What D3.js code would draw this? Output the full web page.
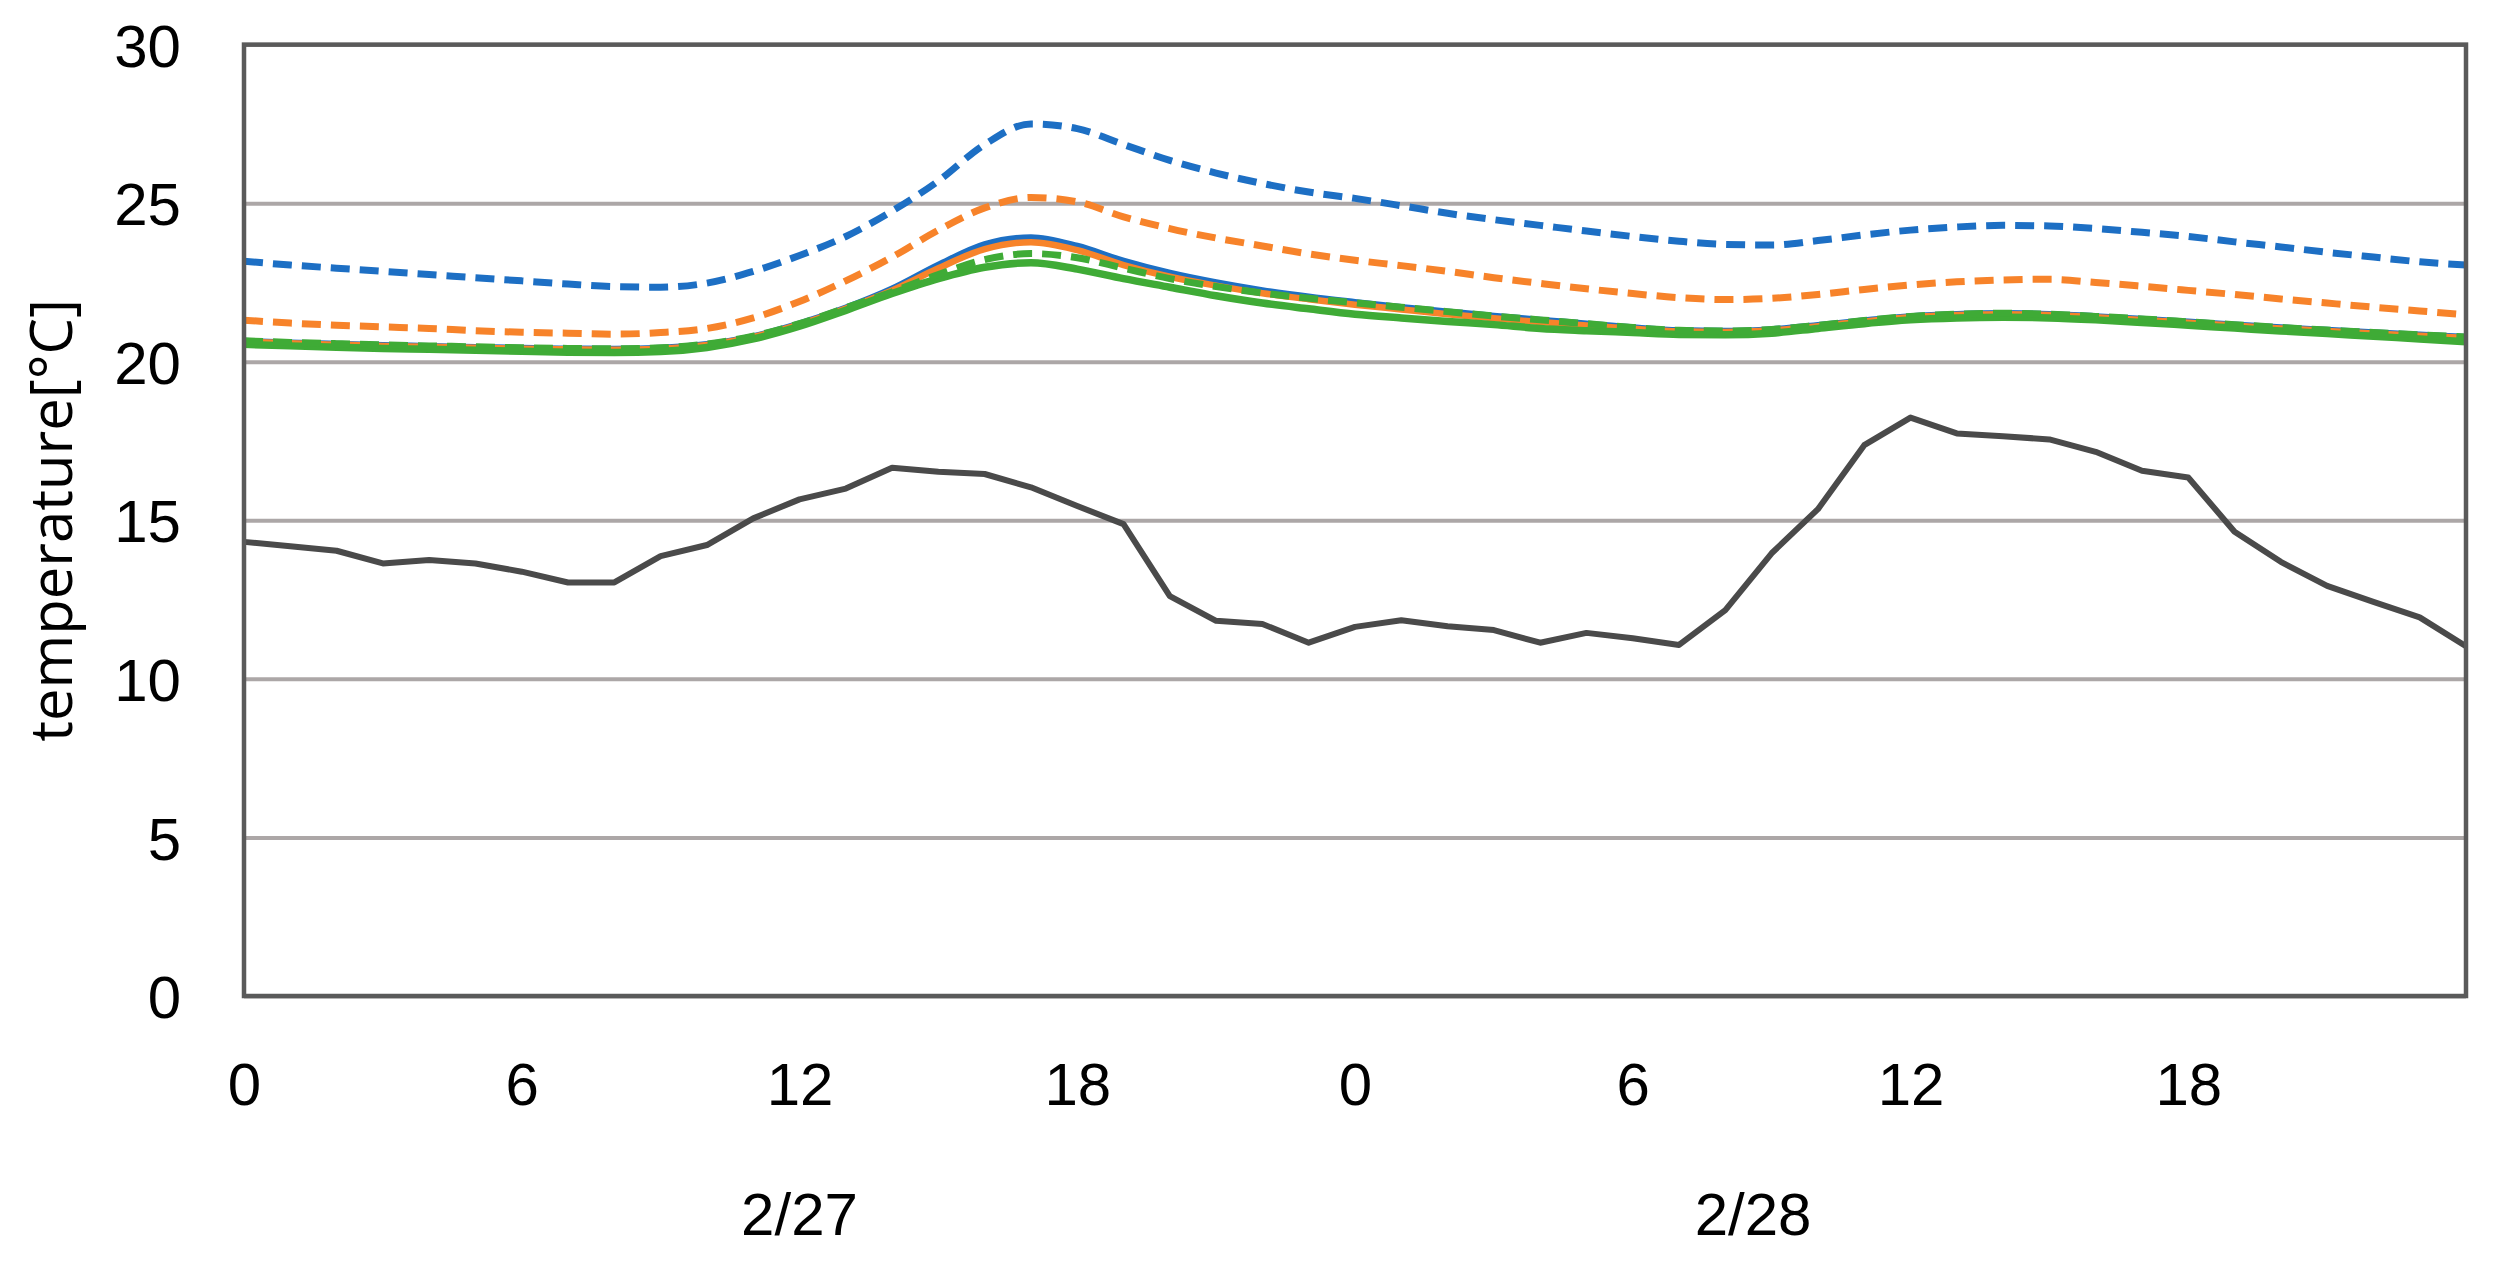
<!DOCTYPE html>
<html><head><meta charset="utf-8">
<script src="https://cdn.jsdelivr.net/npm/d3@7"></script>
<style>html,body{margin:0;padding:0;background:#fff;} svg{display:block}</style>
</head><body>
<svg id="chart" width="2499" height="1270"></svg>
<script>
// ---- data ----
const hours = [0,1,2,3,4,5,6,7,8,9,10,11,12,13,14,15,16,17,18,19,20,21,22,23,24,25,26,27,28,29,30,31,32,33,34,35,36,37,38,39,40,41,42,43,44,45,46,47,48];
const xTickHours = [0,6,12,18,24,30,36,42];
const xTickLabels = ["0","6","12","18","0","6","12","18"];
const dateLabels = ["2/27","2/28"];
const dateLabelHours = [12, 32.6];
const yTicks = [0,5,10,15,20,25,30];
const yTitle = "temperature[°C]";

const outdoor = [14.32,14.18,14.04,13.64,13.75,13.64,13.38,13.04,13.04,13.87,14.22,15.06,15.66,16.0,16.66,16.53,16.46,16.04,15.45,14.88,
  12.61,11.83,11.73,11.14,11.64,11.85,11.66,11.54,11.14,11.45,11.28,11.07,
  12.17,13.96,15.35,17.37,18.24,17.74,17.65,17.55,17.16,16.56,16.35,14.64,13.69,12.93,12.43,11.94,11.03];
const blueSolid = [20.65,20.6,20.56,20.52,20.49,20.46,20.43,20.41,20.4,20.43,20.55,20.8,21.2,21.7,22.3,23.05,23.7,23.92,23.65,23.18,
  22.8,22.5,22.25,22.05,21.88,21.72,21.58,21.44,21.32,21.2,21.08,20.99,20.97,21.02,21.15,21.3,21.43,21.5,21.53,21.5,
  21.43,21.35,21.26,21.17,21.08,21.0,20.92,20.85,20.78];
const orangeSolid = [20.63,20.58,20.54,20.5,20.47,20.44,20.41,20.39,20.38,20.41,20.53,20.78,21.18,21.68,22.25,22.95,23.55,23.77,23.52,23.05,
  22.68,22.4,22.16,21.97,21.8,21.65,21.5,21.37,21.25,21.14,21.04,20.96,20.94,20.99,21.12,21.27,21.4,21.47,21.5,21.47,
  21.4,21.32,21.23,21.14,21.05,20.97,20.89,20.82,20.75];
const greenSolid = [20.55,20.5,20.46,20.42,20.39,20.36,20.33,20.3,20.29,20.32,20.45,20.72,21.12,21.62,22.15,22.62,22.98,23.12,22.92,22.62,
  22.35,22.08,21.85,21.67,21.5,21.38,21.27,21.17,21.05,20.98,20.92,20.86,20.85,20.9,21.05,21.2,21.32,21.38,21.4,21.38,
  21.32,21.24,21.15,21.06,20.97,20.89,20.8,20.72,20.63];
const blueDashed = [23.17,23.05,22.95,22.85,22.75,22.65,22.55,22.45,22.37,22.35,22.48,22.85,23.35,23.95,24.75,25.7,26.85,27.5,27.35,26.85,
  26.35,25.95,25.62,25.35,25.15,24.92,24.68,24.48,24.3,24.12,23.95,23.8,23.7,23.68,23.82,24.0,24.15,24.25,24.3,24.28,
  24.2,24.08,23.95,23.78,23.62,23.45,23.3,23.15,23.05];
const orangeDashed = [21.31,21.22,21.15,21.1,21.05,20.98,20.93,20.9,20.87,20.92,21.05,21.38,21.9,22.55,23.3,24.15,24.85,25.18,25.04,24.57,
  24.2,23.9,23.65,23.4,23.2,23.03,22.85,22.65,22.47,22.3,22.15,22.02,21.96,22.0,22.12,22.28,22.42,22.52,22.58,22.6,
  22.5,22.38,22.25,22.12,21.98,21.85,21.72,21.6,21.48];
const greenDashed = [20.66,20.61,20.57,20.53,20.5,20.47,20.44,20.42,20.41,20.44,20.56,20.81,21.2,21.7,22.2,22.75,23.22,23.41,23.28,22.95,
  22.62,22.37,22.17,22.0,21.86,21.72,21.58,21.44,21.32,21.2,21.08,20.99,20.97,21.02,21.15,21.3,21.43,21.5,21.53,21.5,
  21.43,21.35,21.26,21.17,21.08,21.0,20.92,20.85,20.78];

// ---- layout ----
const W = 2499, H = 1270;
const plot = {left: 244, right: 2466, top: 44.6, bottom: 996};
const tickFont = "'Liberation Sans',sans-serif";

const svg = d3.select("#chart");
svg.append("rect").attr("width", W).attr("height", H).attr("fill", "#fff");

const x = d3.scaleLinear().domain([0, 48]).range([plot.left, plot.right]);
const y = d3.scaleLinear().domain([0, 30]).range([plot.bottom, plot.top]);

// gridlines
const grid = svg.append("g").attr("transform", `translate(${plot.left},0)`)
  .call(d3.axisLeft(y).tickValues(yTicks).tickSize(-(plot.right - plot.left)).tickFormat(""));
grid.select(".domain").remove();
grid.selectAll("line").attr("stroke", "#aca7a7").attr("stroke-width", 4);

// y axis labels
const yAxis = svg.append("g").attr("transform", `translate(${plot.left},0)`)
  .call(d3.axisLeft(y).tickValues(yTicks).tickSize(0).tickPadding(63));
yAxis.select(".domain").remove();
yAxis.selectAll("text").attr("font-family", tickFont).attr("font-size", 60).attr("fill", "#000").attr("dy", "0.36em");

// x axis labels
const xAxis = svg.append("g").attr("transform", `translate(0,${plot.bottom})`)
  .call(d3.axisBottom(x).tickValues(xTickHours).tickSize(0).tickPadding(66).tickFormat((d, i) => xTickLabels[i]));
xAxis.select(".domain").remove();
xAxis.selectAll("text").attr("font-family", tickFont).attr("font-size", 60).attr("fill", "#000");

// date labels
svg.append("g").selectAll("text").data(dateLabels).join("text")
  .attr("x", (d, i) => x(dateLabelHours[i]))
  .attr("y", 1235)
  .attr("text-anchor", "middle")
  .attr("font-family", tickFont).attr("font-size", 60).attr("fill", "#000")
  .text(d => d);

// y title
svg.append("text")
  .attr("transform", `translate(72,${(plot.top + plot.bottom) / 2}) rotate(-90)`)
  .attr("text-anchor", "middle")
  .attr("font-family", "'Open Sans',sans-serif").attr("font-size", 58).attr("fill", "#000")
  .text(yTitle);

// lines
const smooth = d3.line().x((d, i) => x(hours[i])).y(d => y(d)).curve(d3.curveMonotoneX);
const straight = d3.line().x((d, i) => x(hours[i])).y(d => y(d));

const series = [
  {v: blueSolid, c: "#1d6fc4", w: 6.5, dash: null},
  {v: orangeSolid, c: "#f7832a", w: 6.5, dash: null},
  {v: greenSolid, c: "#3fab36", w: 7.5, dash: null},
  {v: blueDashed, c: "#1d6fc4", w: 7, dash: "19,10"},
  {v: orangeDashed, c: "#f7832a", w: 7, dash: "19,10"},
  {v: greenDashed, c: "#3fab36", w: 7, dash: "19,10"}
];
const lg = svg.append("g");
series.forEach(s => {
  lg.append("path").attr("d", smooth(s.v)).attr("fill", "none")
    .attr("stroke", s.c).attr("stroke-width", s.w)
    .attr("stroke-dasharray", s.dash);
});
lg.append("path").attr("d", straight(outdoor)).attr("fill", "none")
  .attr("stroke", "#4a4a4a").attr("stroke-width", 6).attr("stroke-linejoin", "round");

// plot border
svg.append("rect")
  .attr("x", plot.left).attr("y", plot.top)
  .attr("width", plot.right - plot.left).attr("height", plot.bottom - plot.top)
  .attr("fill", "none").attr("stroke", "#5a5a5a").attr("stroke-width", 4.5);
</script>
</body></html>
